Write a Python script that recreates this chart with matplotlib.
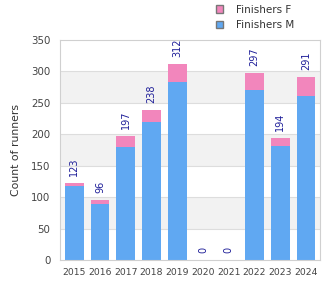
import numpy as np
import matplotlib
matplotlib.use("Agg")
from matplotlib import pyplot as plt
from matplotlib.patches import Patch

years = ["2015", "2016", "2017", "2018", "2019", "2020", "2021", "2022", "2023", "2024"]
finishers_m = [117, 89, 179, 220, 283, 0, 0, 271, 181, 261]
finishers_f = [6, 7, 18, 18, 29, 0, 0, 26, 13, 30]
totals = [123, 96, 197, 238, 312, 0, 0, 297, 194, 291]

blue = "#60a8f2"
pink = "#f286bc"
navy = "#1f1f99"

fig = plt.figure(figsize=(3.3, 3.0), dpi=100)
ax = fig.add_axes([0.182, 0.133, 0.788, 0.734])

# alternating background bands
for lo in range(50, 350, 100):
    ax.axhspan(lo, lo + 50, color="#f2f2f2", zorder=0, lw=0)
for y in range(50, 350, 50):
    ax.axhline(y, color="#dddddd", lw=0.8, zorder=0.5)

x = np.arange(len(years))
ax.bar(x, finishers_m, width=0.73, color=blue, zorder=2)
ax.bar(x, finishers_f, width=0.73, bottom=finishers_m, color=pink, zorder=2)

for xi, t in zip(x, totals):
    ax.annotate(str(t), (xi, t), xytext=(0, 5), textcoords="offset points",
                rotation=90, ha="center", va="bottom",
                fontsize=7, color=navy, zorder=3)

ax.set_xlim(-0.55, len(years) - 0.45)
ax.set_ylim(0, 350)
ax.set_xticks(x)
ax.set_xticklabels(years, fontsize=6.7)
ax.set_yticks(range(0, 351, 50))
ax.tick_params(axis="both", length=0, colors="#444444")
ax.tick_params(axis="y", labelsize=7.4, pad=7)
ax.tick_params(axis="x", pad=6)
for s in ax.spines.values():
    s.set_color("#d0d0d0")
ax.set_ylabel("Count of runners", fontsize=7.8, color="#333333", labelpad=7)

handles = [Patch(facecolor=pink, edgecolor="#777777", label="Finishers F"),
           Patch(facecolor=blue, edgecolor="#777777", label="Finishers M")]
fig.legend(handles=handles, loc="upper left", bbox_to_anchor=(0.625, 1.015),
           frameon=False, fontsize=7.5, handlelength=0.75, handleheight=0.75,
           labelspacing=0.5, handletextpad=1.2, labelcolor="#333333")

fig.savefig("out.png", dpi=100)
